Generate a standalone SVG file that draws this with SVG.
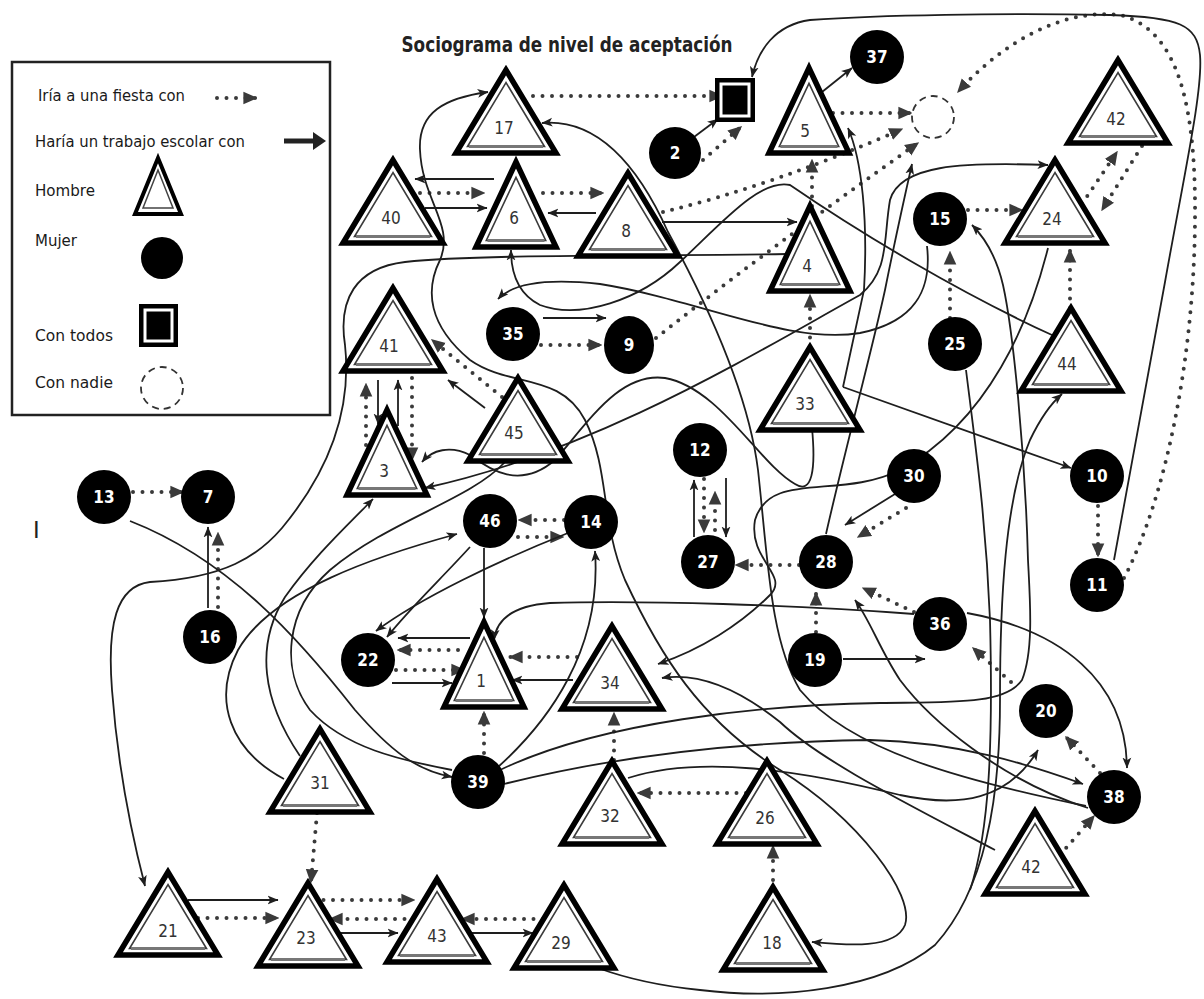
<svg xmlns="http://www.w3.org/2000/svg" width="1204" height="999" viewBox="0 0 1204 999">
<style>
  .to{fill:#fff;stroke:#000;stroke-width:5.5;stroke-linejoin:miter}
  .ti{fill:none;stroke:#3c3c3c;stroke-width:1.6}
  .tb{stroke:#777;stroke-width:3}
  .tl{font-family:"Liberation Sans Narrow","DejaVu Sans Condensed","Liberation Sans",Arial,sans-serif;font-size:17px;fill:#333;text-anchor:middle}
  .cl{font-family:"Liberation Sans Narrow","DejaVu Sans Condensed","Liberation Sans",Arial,sans-serif;font-size:17px;font-weight:bold;fill:#fff;text-anchor:middle}
  .lg{font-family:"Liberation Sans Narrow","DejaVu Sans Condensed","Liberation Sans",Arial,sans-serif;font-size:15.5px;fill:#1a1a1a}
  .d{fill:none;stroke:#3a3a3a;stroke-width:4;stroke-linecap:round;stroke-dasharray:0 9.5;marker-end:url(#dh)}
  .s{fill:none;stroke:#1e1e1e;stroke-width:1.8;marker-end:url(#sh)}
  .s2{fill:none;stroke:#1e1e1e;stroke-width:1.8;marker-start:url(#sh);marker-end:url(#sh)}
  .sn{fill:none;stroke:#1e1e1e;stroke-width:1.8}
</style>
<defs>
  <marker id="dh" viewBox="0 0 10 10" refX="9" refY="5" markerWidth="14" markerHeight="14" markerUnits="userSpaceOnUse" orient="auto-start-reverse">
    <path d="M0,0.5 L10,5 L0,9.5 z" fill="#3a3a3a"/>
  </marker>
  <marker id="sh" viewBox="0 0 10 10" refX="9.5" refY="5" markerWidth="11" markerHeight="11" markerUnits="userSpaceOnUse" orient="auto-start-reverse">
    <path d="M0,1 L10,5 L0,9 L2.5,5 z" fill="#1e1e1e"/>
  </marker>
  <!-- boy symbol: thick outer triangle with a thin inner outline -->
  <g id="tri">
    <polygon class="to" points="0,0 -50,83 50,83"/>
    <polygon class="ti" points="0,12.6 -38.5,76.5 38.5,76.5"/>
    <line class="tb" x1="-37" y1="76.5" x2="37" y2="76.5"/>
  </g>
  <g id="tri-s">
    <polygon class="to" points="0,0 -40,85 40,85"/>
    <polygon class="ti" points="0,15.3 -29.7,78.5 29.7,78.5"/>
    <line class="tb" x1="-28.5" y1="78.5" x2="28.5" y2="78.5"/>
  </g>
</defs>

<rect width="1204" height="999" fill="#fff"/>

<!-- title -->
<text x="567" y="52" text-anchor="middle" font-family="'Liberation Sans Narrow','DejaVu Sans Condensed','Liberation Sans',Arial,sans-serif" font-size="21" font-weight="bold" fill="#222" textLength="331" lengthAdjust="spacingAndGlyphs">Sociograma de nivel de aceptación</text>

<!-- legend -->
<g id="legend">
  <rect x="12" y="62" width="318" height="353" fill="#fff" stroke="#222" stroke-width="2.5"/>
  <text class="lg" x="38" y="101" textLength="147" lengthAdjust="spacingAndGlyphs">Iría a una fiesta con</text>
  <path class="d" d="M217,98 H256"/>
  <text class="lg" x="35" y="147" textLength="210" lengthAdjust="spacingAndGlyphs">Haría un trabajo escolar con</text>
  <line x1="284" y1="141" x2="316" y2="141" stroke="#222" stroke-width="5"/>
  <polygon points="313,132 326,141 313,150" fill="#222"/>
  <text class="lg" x="35" y="196" textLength="60" lengthAdjust="spacingAndGlyphs">Hombre</text>
  <polygon points="158,158 135,214 181,214" fill="#fff" stroke="#000" stroke-width="4"/>
  <polygon points="158,170 143,208 173,208" fill="none" stroke="#444" stroke-width="1.5"/>
  <text class="lg" x="35" y="246" textLength="42" lengthAdjust="spacingAndGlyphs">Mujer</text>
  <circle cx="162" cy="258" r="21" fill="#000"/>
  <text class="lg" x="35" y="341" textLength="78" lengthAdjust="spacingAndGlyphs">Con todos</text>
  <rect x="139" y="304" width="39" height="43" fill="#000"/>
  <rect x="145" y="310" width="27" height="31" fill="#000" stroke="#fff" stroke-width="3"/>
  <text class="lg" x="35" y="388" textLength="78" lengthAdjust="spacingAndGlyphs">Con nadie</text>
  <circle cx="162" cy="388" r="21" fill="none" stroke="#333" stroke-width="1.8" stroke-dasharray="7 5"/>
</g>

<text x="33" y="538" font-family="'Liberation Sans',Arial,sans-serif" font-size="24" fill="#222">I</text>

<!-- connectors -->
<g id="connectors">
  <!-- fiesta (dotted) -->
  <path class="d" d="M533,96 H722"/>
  <path class="d" d="M703,160 L741,127"/>
  <path class="d" d="M833,113 H911"/>
  <path class="d" d="M663,212 Q775,185 902,129"/>
  <path class="d" d="M656,338 Q780,240 918,143"/>
  <path class="d" d="M812,206 V160"/>
  <path class="d" d="M810,347 V295"/>
  <path class="d" d="M950,318 V252"/>
  <path class="d" d="M1070,308 V250"/>
  <path class="d" d="M968,210 H1022"/>
  <path class="d" d="M1082,204 L1117,152"/>
  <path class="d" d="M1142,146 L1102,210"/>
  <path class="d" d="M1124,578 C1165,500 1194,360 1195,220 C1196,110 1180,30 1120,15 C1060,8 1000,45 958,92"/>
  <path class="d" d="M420,193 H484"/>
  <path class="d" d="M543,193 H603"/>
  <path class="d" d="M502,397 L432,340"/>
  <path class="d" d="M366,445 V384"/>
  <path class="d" d="M412,378 V460"/>
  <path class="d" d="M541,345 H601"/>
  <path class="d" d="M133,492 H183"/>
  <path class="d" d="M218,607 V533"/>
  <path class="d" d="M715,530 V492"/>
  <path class="d" d="M704,479 V532"/>
  <path class="d" d="M564,520 H519"/>
  <path class="d" d="M518,537 H563"/>
  <path class="d" d="M799,565 H736"/>
  <path class="d" d="M906,508 L858,537"/>
  <path class="d" d="M816,632 V593"/>
  <path class="d" d="M914,612 L863,588"/>
  <path class="d" d="M577,657 H510"/>
  <path class="d" d="M458,650 H398"/>
  <path class="d" d="M396,670 H464"/>
  <path class="d" d="M484,753 V712"/>
  <path class="d" d="M614,760 V713"/>
  <path class="d" d="M746,793 H638"/>
  <path class="d" d="M773,880 V846"/>
  <path class="d" d="M1011,682 L973,648"/>
  <path class="d" d="M1100,773 L1066,737"/>
  <path class="d" d="M1060,855 L1094,816"/>
  <path class="d" d="M1098,506 V556"/>
  <path class="d" d="M317,813 L311,882"/>
  <path class="d" d="M198,918 H278"/>
  <path class="d" d="M314,900 H414"/>
  <path class="d" d="M414,919 H330"/>
  <path class="d" d="M543,919 H462"/>

  <!-- trabajo (solid) straight -->
  <path class="s" d="M694,137 L718,119"/>
  <path class="s" d="M822,92 L852,68"/>
  <path class="s" d="M494,179 H415"/>
  <path class="s" d="M425,208 H487"/>
  <path class="s" d="M596,213 H548"/>
  <path class="s" d="M662,222 H797"/>
  <path class="s" d="M485,408 L448,380"/>
  <path class="s" d="M378,380 V424"/>
  <path class="s" d="M398,426 V380"/>
  <path class="s" d="M543,318 H606"/>
  <path class="s" d="M208,608 V527"/>
  <path class="s" d="M484,548 V618"/>
  <path class="s" d="M573,680 H512"/>
  <path class="s" d="M470,638 H398"/>
  <path class="s" d="M392,683 H452"/>
  <path class="s" d="M843,659 H925"/>
  <path class="s" d="M895,494 L845,525"/>
  <path class="s" d="M726,478 V537"/>
  <path class="s" d="M694,537 V480"/>
  <path class="s" d="M188,900 H278"/>
  <path class="s" d="M340,933 H398"/>
  <path class="s" d="M472,933 H533"/>
  <path class="s" d="M843,387 L1071,468"/>
  <path class="s" d="M843,387 L864,290 C868,220 862,160 848,128"/>

  <!-- trabajo (solid) curves -->
  <path class="s" d="M1114,560 L1165,282 C1185,170 1203,90 1200,55 C1197,25 1180,17 1110,15 C1000,13 880,15 810,20 C775,25 758,50 752,77"/>
  <path class="s" d="M787,254 C650,256 480,254 405,262 C355,268 338,300 345,345 C352,410 330,470 282,528 C258,556 225,578 150,582 C116,586 107,625 112,690 C118,770 133,840 145,886"/>
  <path class="s" d="M130,521 C230,560 300,640 355,710 C390,750 415,770 452,777"/>
  <path class="s" d="M300,756 C262,700 255,645 285,597 C315,555 348,525 373,499"/>
  <path class="s" d="M284,779 C230,750 212,700 238,650 C272,590 380,555 457,534"/>
  <path class="s" d="M498,767 C548,722 602,650 595,551"/>
  <path class="s" d="M470,547 C440,580 410,608 387,637"/>
  <path class="s" d="M568,533 C500,560 420,598 376,631"/>
  <path class="s2" d="M488,92 C445,98 418,112 420,150 C422,200 455,225 440,260 C425,290 428,325 470,360 C510,388 560,372 585,420 C610,470 600,520 625,580 C660,655 700,720 780,770 C860,820 915,895 905,925 C895,950 845,945 812,942"/>
  <path class="s" d="M1086,806 C960,780 850,750 800,690 C770,640 768,560 758,470 C748,390 705,300 668,232 C640,170 600,118 542,123"/>
  <path class="s" d="M812,428 C816,470 812,495 795,484 C760,465 720,388 665,378 C620,372 590,420 555,460 C520,490 490,470 470,455 C450,445 432,450 422,462"/>
  <path class="s2" d="M1048,165 C960,162 900,165 890,200 C883,240 890,270 860,295 C760,350 600,450 425,488"/>
  <path class="s" d="M1048,248 C1030,320 990,420 900,470 C840,500 770,470 755,520 C748,560 790,575 770,595 C740,625 700,650 658,664"/>
  <path class="s" d="M995,850 C900,800 820,760 780,722 C740,690 700,672 662,678"/>
  <path class="sn" d="M966,370 C976,450 986,520 990,620 C993,740 990,830 970,890"/>
  <path class="s" d="M598,968 C620,976 650,985 700,990 C780,1000 880,990 935,945 C985,890 1000,800 1000,700 C1000,600 1005,500 1030,440 C1042,415 1055,400 1062,394"/>
  <path class="s" d="M500,770 C600,722 760,705 880,703 C950,702 1005,705 1022,680 C1034,650 1030,600 1028,560 C1025,450 1013,330 1003,285 C996,255 985,238 972,225"/>
  <path class="s" d="M504,784 C600,760 720,742 870,740 C960,742 1030,765 1083,784"/>
  <path class="s" d="M628,778 C700,755 800,770 900,795 C960,808 1008,800 1038,750"/>
  <path class="s" d="M914,614 C800,605 640,600 550,603 C510,606 496,622 494,640"/>
  <path class="s" d="M967,613 C1060,630 1126,680 1127,768"/>
  <path class="s" d="M1088,808 C1000,780 930,720 900,680 C880,650 870,620 855,600"/>
  <path class="s" d="M826,534 C845,450 872,350 885,290 C895,240 905,195 912,164"/>
  <path class="s" d="M1052,335 C960,293 860,233 790,185 C760,178 720,225 680,262 C640,300 580,320 540,305 C520,295 511,275 511,250"/>
  <path class="s" d="M927,246 C932,290 915,322 860,333 C790,345 700,300 600,284 C545,278 512,284 498,299"/>
  <path class="sn" d="M505,462 C470,500 390,520 330,570 C285,610 280,670 310,710 C345,748 400,760 452,770"/>
</g>

<!-- nodes -->
<g id="n-todos">
  <rect x="715" y="78" width="40" height="44" fill="#000"/>
  <rect x="721" y="84" width="28" height="32" fill="#000" stroke="#fff" stroke-width="3"/>
</g>
<g id="n-nadie">
  <circle cx="933" cy="117" r="21" fill="none" stroke="#333" stroke-width="1.8" stroke-dasharray="7 5"/>
</g>

<g id="n17"><use href="#tri" x="506" y="70"/><text class="tl" x="504" y="134">17</text></g>
<g id="n40"><use href="#tri" x="393" y="160"/><text class="tl" x="391" y="224">40</text></g>
<g id="n6"><use href="#tri-s" x="516" y="162"/><text class="tl" x="514" y="224">6</text></g>
<g id="n8"><use href="#tri" x="628" y="173"/><text class="tl" x="626" y="237">8</text></g>
<g id="n5"><use href="#tri-s" x="809" y="68"/><text class="tl" x="805" y="137">5</text></g>
<g id="n42a"><use href="#tri" x="1118" y="60"/><text class="tl" x="1116" y="125">42</text></g>
<g id="n24"><use href="#tri" x="1055" y="160"/><text class="tl" x="1052" y="225">24</text></g>
<g id="n4"><use href="#tri-s" x="810" y="206"/><text class="tl" x="807" y="272">4</text></g>
<g id="n41"><use href="#tri" x="393" y="288"/><text class="tl" x="389" y="352">41</text></g>
<g id="n3"><use href="#tri-s" x="387" y="410"/><text class="tl" x="384" y="477">3</text></g>
<g id="n45"><use href="#tri" x="518" y="378"/><text class="tl" x="514" y="439">45</text></g>
<g id="n33"><use href="#tri" x="810" y="347"/><text class="tl" x="805" y="410">33</text></g>
<g id="n44"><use href="#tri" x="1071" y="308"/><text class="tl" x="1067" y="370">44</text></g>
<g id="n1"><use href="#tri-s" x="484" y="622"/><text class="tl" x="481" y="687">1</text></g>
<g id="n34"><use href="#tri" x="612" y="626"/><text class="tl" x="610" y="689">34</text></g>
<g id="n31"><use href="#tri" x="320" y="729"/><text class="tl" x="320" y="789">31</text></g>
<g id="n32"><use href="#tri" x="612" y="761"/><text class="tl" x="610" y="822">32</text></g>
<g id="n26"><use href="#tri" x="767" y="761"/><text class="tl" x="765" y="824">26</text></g>
<g id="n42b"><use href="#tri" x="1035" y="811"/><text class="tl" x="1031" y="873">42</text></g>
<g id="n21"><use href="#tri" x="168" y="872"/><text class="tl" x="168" y="937">21</text></g>
<g id="n23"><use href="#tri" x="308" y="883"/><text class="tl" x="306" y="944">23</text></g>
<g id="n43"><use href="#tri" x="437" y="879"/><text class="tl" x="437" y="942">43</text></g>
<g id="n29"><use href="#tri" x="564" y="885"/><text class="tl" x="561" y="949">29</text></g>
<g id="n18"><use href="#tri" x="773" y="887"/><text class="tl" x="772" y="949">18</text></g>

<g id="n37"><circle cx="877" cy="57" r="27"/><text class="cl" x="877" y="63">37</text></g>
<g id="n2"><circle cx="675" cy="153" r="26"/><text class="cl" x="675" y="159">2</text></g>
<g id="n15"><circle cx="940" cy="219" r="27"/><text class="cl" x="940" y="225">15</text></g>
<g id="n35"><circle cx="513" cy="334" r="27"/><text class="cl" x="513" y="340">35</text></g>
<g id="n9"><ellipse cx="629" cy="345" rx="25" ry="29"/><text class="cl" x="629" y="351">9</text></g>
<g id="n12"><circle cx="700" cy="450" r="27"/><text class="cl" x="700" y="456">12</text></g>
<g id="n25"><circle cx="955" cy="344" r="27"/><text class="cl" x="955" y="350">25</text></g>
<g id="n30"><circle cx="914" cy="476" r="27"/><text class="cl" x="914" y="482">30</text></g>
<g id="n10"><circle cx="1097" cy="476" r="27"/><text class="cl" x="1097" y="482">10</text></g>
<g id="n28"><circle cx="826" cy="562" r="27"/><text class="cl" x="826" y="568">28</text></g>
<g id="n11"><circle cx="1097" cy="585" r="27"/><text class="cl" x="1097" y="591">11</text></g>
<g id="n13"><circle cx="104" cy="497" r="27"/><text class="cl" x="104" y="503">13</text></g>
<g id="n7"><circle cx="208" cy="497" r="27"/><text class="cl" x="208" y="503">7</text></g>
<g id="n16"><circle cx="210" cy="637" r="27"/><text class="cl" x="210" y="643">16</text></g>
<g id="n22"><circle cx="368" cy="660" r="27"/><text class="cl" x="368" y="666">22</text></g>
<g id="n46"><circle cx="490" cy="521" r="27"/><text class="cl" x="490" y="527">46</text></g>
<g id="n14"><circle cx="591" cy="522" r="27"/><text class="cl" x="591" y="528">14</text></g>
<g id="n27"><circle cx="708" cy="562" r="27"/><text class="cl" x="708" y="568">27</text></g>
<g id="n19"><circle cx="815" cy="660" r="27"/><text class="cl" x="815" y="666">19</text></g>
<g id="n39"><circle cx="478" cy="782" r="27"/><text class="cl" x="478" y="788">39</text></g>
<g id="n36"><circle cx="940" cy="624" r="27"/><text class="cl" x="940" y="630">36</text></g>
<g id="n20"><circle cx="1046" cy="711" r="27"/><text class="cl" x="1046" y="717">20</text></g>
<g id="n38"><circle cx="1114" cy="797" r="27"/><text class="cl" x="1114" y="803">38</text></g>
</svg>
